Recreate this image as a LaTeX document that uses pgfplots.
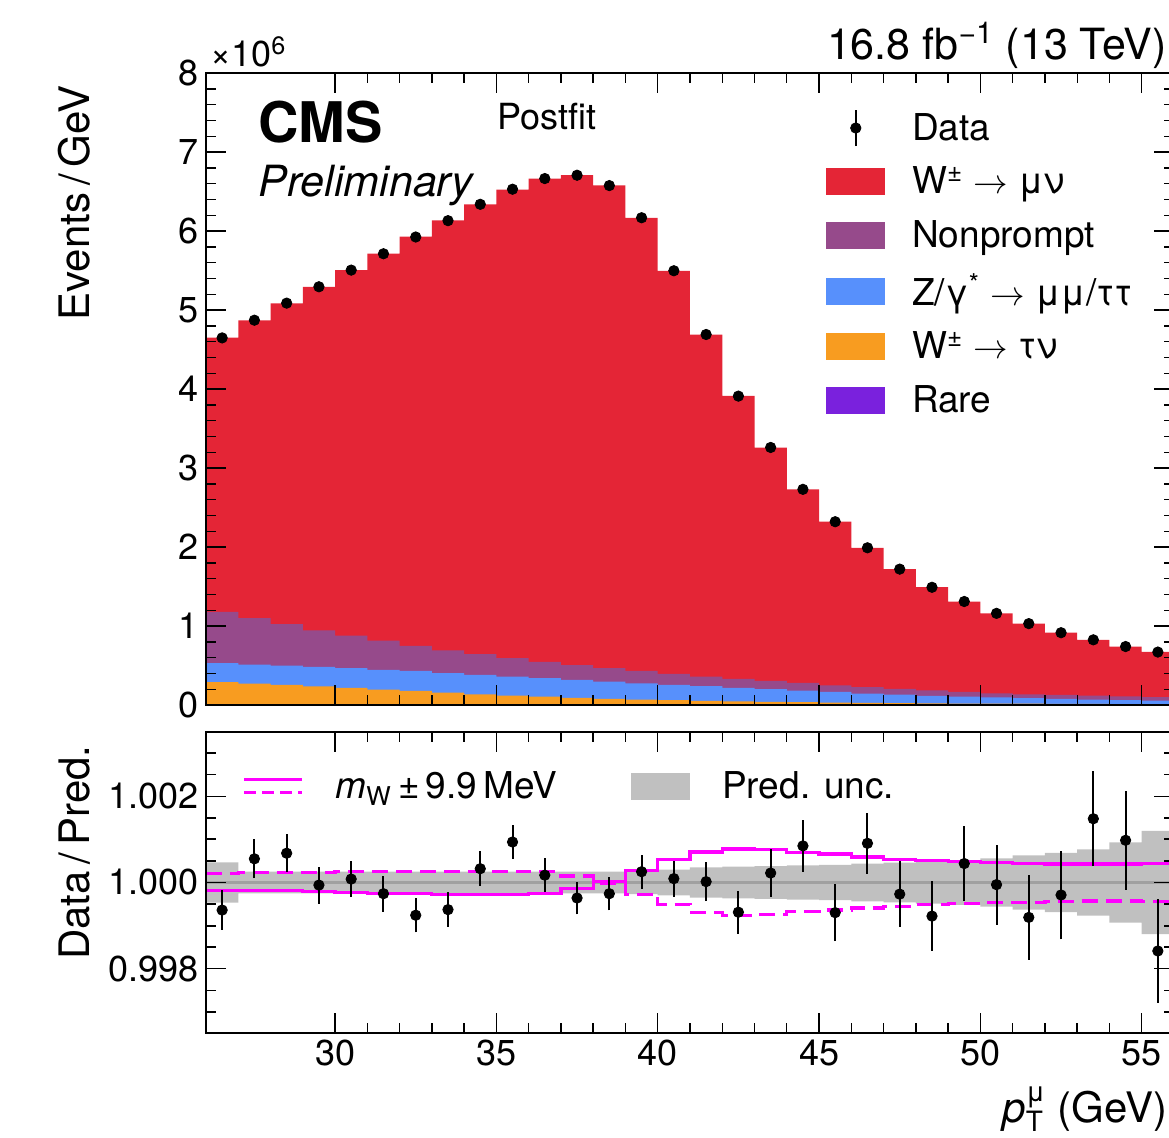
\documentclass[border=0pt]{standalone}
\usepackage{fontspec}
\setmainfont{TeX Gyre Heros}
\usepackage{pgfplots}
\pgfplotsset{compat=1.18}
\usepackage{pgfplotstable}

\definecolor{cmsred}{HTML}{E42536}
\definecolor{cmspurple}{HTML}{964A8B}
\definecolor{cmsblue}{HTML}{5790FC}
\definecolor{cmsorange}{HTML}{F89C20}
\definecolor{cmsviolet}{HTML}{7A21DD}
\definecolor{bandgray}{HTML}{C0C0C0}
\definecolor{linegray}{HTML}{A0A0A0}
\definecolor{mag}{RGB}{255,0,255}

% cumulative stack tops (units of 10^6 events/GeV), bin low edges
\pgfplotstableread{
x  T     P     B     O     R
26 4.650 1.180 0.530 0.290 0.0080
27 4.868 1.100 0.510 0.270 0.0075
28 5.083 1.025 0.500 0.254 0.0070
29 5.294 0.945 0.483 0.237 0.0068
30 5.504 0.877 0.466 0.216 0.0065
31 5.713 0.814 0.445 0.195 0.0060
32 5.929 0.750 0.432 0.178 0.0058
33 6.135 0.690 0.405 0.157 0.0055
34 6.336 0.644 0.381 0.136 0.0052
35 6.523 0.593 0.360 0.119 0.0050
36 6.663 0.547 0.339 0.106 0.0048
37 6.708 0.504 0.318 0.089 0.0046
38 6.577 0.466 0.295 0.078 0.0044
39 6.166 0.432 0.275 0.068 0.0042
40 5.496 0.394 0.254 0.062 0.0040
41 4.690 0.360 0.240 0.052 0.0038
42 3.913 0.330 0.216 0.046 0.0036
43 3.259 0.305 0.200 0.040 0.0034
44 2.728 0.280 0.182 0.035 0.0032
45 2.322 0.250 0.165 0.030 0.0030
46 1.988 0.225 0.145 0.026 0.0030
47 1.720 0.203 0.130 0.023 0.0028
48 1.491 0.186 0.117 0.020 0.0027
49 1.309 0.165 0.106 0.019 0.0026
50 1.160 0.148 0.095 0.017 0.0025
51 1.031 0.136 0.086 0.016 0.0024
52 0.915 0.127 0.077 0.015 0.0023
53 0.824 0.119 0.069 0.013 0.0022
54 0.739 0.110 0.063 0.012 0.0021
55 0.671 0.100 0.057 0.012 0.0020
56 0.671 0.100 0.057 0.012 0.0020
}\stack

\pgfplotstableread{
x    y
26.5 4.647
27.5 4.871
28.5 5.087
29.5 5.294
30.5 5.505
31.5 5.712
32.5 5.924
33.5 6.131
34.5 6.338
35.5 6.529
36.5 6.664
37.5 6.706
38.5 6.575
39.5 6.168
40.5 5.497
41.5 4.690
42.5 3.910
43.5 3.260
44.5 2.730
45.5 2.320
46.5 1.990
47.5 1.720
48.5 1.490
49.5 1.310
50.5 1.160
51.5 1.030
52.5 0.915
53.5 0.825
54.5 0.740
55.5 0.670
}\data

% data/prediction ratio
\pgfplotstableread{
x    r
26.5 0.99936
27.5 1.00055
28.5 1.00068
29.5 0.99994
30.5 1.00008
31.5 0.99974
32.5 0.99924
33.5 0.99937
34.5 1.00032
35.5 1.00094
36.5 1.00017
37.5 0.99964
38.5 0.99974
39.5 1.00025
40.5 1.00009
41.5 1.00002
42.5 0.99931
43.5 1.00022
44.5 1.00085
45.5 0.99930
46.5 1.00091
47.5 0.99973
48.5 0.99922
49.5 1.00044
50.5 0.99995
51.5 0.99919
52.5 0.99971
53.5 1.00148
54.5 1.00098
55.5 0.99841
}\ratio

\pgfplotstableread{
x  s       d
26 0.99981 1.00021
27 0.99981 1.00024
28 0.99981 1.00024
29 0.99980 1.00024
30 0.99976 1.00026
31 0.99975 1.00026
32 0.99974 1.00026
33 0.99973 1.00026
34 0.99973 1.00026
35 0.99973 1.00026
36 0.99975 1.00025
37 0.99986 1.00015
38 1.00002 0.99998
39 1.00027 0.99973
40 1.00053 0.99949
41 1.00071 0.99930
42 1.00078 0.99924
43 1.00076 0.99926
44 1.00069 0.99932
45 1.00066 0.99936
46 1.00059 0.99941
47 1.00054 0.99945
48 1.00051 0.99949
49 1.00048 0.99951
50 1.00046 0.99953
51 1.00044 0.99954
52 1.00043 0.99956
53 1.00043 0.99957
54 1.00043 0.99957
55 1.00044 0.99956
56 1.00044 0.99956
}\mw

\pgfplotsset{
  cmsaxis/.style={
    scale only axis, width=484pt, xmin=26, xmax=56,
    tick align=inside, tick pos=both,
    xtick={30,35,...,55}, minor x tick num=4,
    major tick length=10pt, minor tick length=5pt,
    axis line style={line width=1.3pt},
    every tick/.style={line width=0.7pt, black},
    tick label style={font=\fontsize{18}{18}\selectfont},
    /pgf/number format/assume math mode=true,
    axis on top,
    legend cell align=left,
  },
  boxleg/.style={legend image code/.code={\fill[#1] (0pt,-6.5pt) rectangle (29pt,6.5pt);}},
  ebar/.style={black, line width=1pt, forget plot},
}

\begin{document}
\begin{tikzpicture}

\begin{axis}[cmsaxis, at={(0pt,0pt)}, anchor=south west, height=316pt,
  ymin=0, ymax=8, ytick={0,1,...,8}, minor y tick num=4,
  xticklabels={},
  legend style={draw=none, fill=none, at={(0.6343,0.950)}, anchor=north west,
    font=\fontsize{18.5}{22}\selectfont, row sep=7.8pt,
    /tikz/every odd column/.append style={column sep=11.5pt}},
]
\addplot[const plot, fill=cmsred, draw=none, forget plot] table[x=x,y=T]{\stack} \closedcycle;
\addplot[const plot, fill=cmspurple, draw=none, forget plot] table[x=x,y=P]{\stack} \closedcycle;
\addplot[const plot, fill=cmsblue, draw=none, forget plot] table[x=x,y=B]{\stack} \closedcycle;
\addplot[const plot, fill=cmsorange, draw=none, forget plot] table[x=x,y=O]{\stack} \closedcycle;
\addplot[const plot, fill=cmsviolet, draw=none, forget plot] table[x=x,y=R]{\stack} \closedcycle;
\addplot[only marks, mark=*, mark size=2.6pt, black, forget plot] table[x=x,y=y]{\data};

\addlegendimage{legend image code/.code={\draw[black,line width=1pt](14.5pt,-9pt)--(14.5pt,9pt);\fill[black](14.5pt,0pt) circle (2.6pt);}}
\addlegendentry{Data}
\addlegendimage{boxleg=cmsred}
\addlegendentry{W\textsuperscript{±} $\rightarrow$ μν}
\addlegendimage{boxleg=cmspurple}
\addlegendentry{Nonprompt}
\addlegendimage{boxleg=cmsblue}
\addlegendentry{Z/γ\textsuperscript{*} $\rightarrow$ μμ/ττ}
\addlegendimage{boxleg=cmsorange}
\addlegendentry{W\textsuperscript{±} $\rightarrow$ τν}
\addlegendimage{boxleg=cmsviolet}
\addlegendentry{Rare}
\end{axis}

\begin{axis}[cmsaxis, at={(0pt,-13.5pt)}, anchor=north west, height=150.5pt,
  y coord trafo/.code={\pgfmathparse{(#1-1)*1000}},
  y coord inv trafo/.code={\pgfmathparse{#1/1000+1}},
  ymin=0.9965, ymax=1.0035, ytick={0.998,1,1.002},
  minor ytick={0.997,0.9975,0.9985,0.999,0.9995,1.0005,1.001,1.0015,1.0025,1.003},
  scaled y ticks=false,
  yticklabel style={/pgf/number format/fixed, /pgf/number format/fixed zerofill, /pgf/number format/precision=3},
  legend columns=2,
  legend style={draw=none, fill=none, at={(0.031,0.897)}, anchor=north west,
    font=\fontsize{18.5}{22}\selectfont,
    /tikz/every odd column/.append style={column sep=14pt},
    /tikz/every even column/.append style={column sep=35pt}},
]
% prediction uncertainty band: upper edge left to right, lower edge right to left
\addplot[const plot mark right, fill=bandgray, draw=none, forget plot] coordinates {
(26,1.00047) (27,1.00047) (28,1.00025) (29,1.00025) (30,1.00025) (31,1.00025)
(32,1.00025) (33,1.00025) (34,1.00025) (35,1.00025) (36,1.00025) (37,1.00025)
(38,1.00025) (39,1.00025) (40,1.00027) (41,1.00030) (42,1.00035) (43,1.00037)
(44,1.00038) (45,1.00040) (46,1.00041) (47,1.00044) (48,1.00046) (49,1.00049)
(50,1.00052) (51,1.00056) (52,1.00063) (53,1.00069) (54,1.00077) (55,1.00093)
(56,1.00120)
(56,0.99880) (55,0.99880) (54,0.99907) (53,0.99923) (52,0.99931) (51,0.99937)
(50,0.99944) (49,0.99948) (48,0.99951) (47,0.99954) (46,0.99956) (45,0.99959)
(44,0.99960) (43,0.99962) (42,0.99963) (41,0.99965) (40,0.99970) (39,0.99973)
(38,0.99975) (37,0.99975) (36,0.99975) (35,0.99975) (34,0.99975) (33,0.99975)
(32,0.99975) (31,0.99975) (30,0.99975) (29,0.99975) (28,0.99975) (27,0.99975)
(26,0.99953)};
\addplot[linegray, line width=1.6pt, forget plot] coordinates {(26,1) (56,1)};
\addplot[const plot, mag, line width=1.6pt, forget plot] table[x=x,y=s]{\mw};
\addplot[const plot, mag, line width=1.6pt, dash pattern=on 8pt off 4pt, forget plot] table[x=x,y=d]{\mw};
% error bars (lower and upper ends)
\addplot[ebar] coordinates {(26.5,0.99890) (26.5,0.99982)};
\addplot[ebar] coordinates {(27.5,1.00010) (27.5,1.00100)};
\addplot[ebar] coordinates {(28.5,1.00024) (28.5,1.00112)};
\addplot[ebar] coordinates {(29.5,0.99951) (29.5,1.00037)};
\addplot[ebar] coordinates {(30.5,0.99966) (30.5,1.00050)};
\addplot[ebar] coordinates {(31.5,0.99932) (31.5,1.00016)};
\addplot[ebar] coordinates {(32.5,0.99884) (32.5,0.99964)};
\addplot[ebar] coordinates {(33.5,0.99897) (33.5,0.99977)};
\addplot[ebar] coordinates {(34.5,0.99992) (34.5,1.00072)};
\addplot[ebar] coordinates {(35.5,1.00055) (35.5,1.00133)};
\addplot[ebar] coordinates {(36.5,0.99978) (36.5,1.00056)};
\addplot[ebar] coordinates {(37.5,0.99926) (37.5,1.00002)};
\addplot[ebar] coordinates {(38.5,0.99935) (38.5,1.00013)};
\addplot[ebar] coordinates {(39.5,0.99985) (39.5,1.00065)};
\addplot[ebar] coordinates {(40.5,0.99967) (40.5,1.00051)};
\addplot[ebar] coordinates {(41.5,0.99957) (41.5,1.00047)};
\addplot[ebar] coordinates {(42.5,0.99881) (42.5,0.99981)};
\addplot[ebar] coordinates {(43.5,0.99967) (43.5,1.00077)};
\addplot[ebar] coordinates {(44.5,1.00025) (44.5,1.00145)};
\addplot[ebar] coordinates {(45.5,0.99864) (45.5,0.99996)};
\addplot[ebar] coordinates {(46.5,1.00020) (46.5,1.00162)};
\addplot[ebar] coordinates {(47.5,0.99897) (47.5,1.00049)};
\addplot[ebar] coordinates {(48.5,0.99841) (48.5,1.00003)};
\addplot[ebar] coordinates {(49.5,0.99957) (49.5,1.00131)};
\addplot[ebar] coordinates {(50.5,0.99902) (50.5,1.00088)};
\addplot[ebar] coordinates {(51.5,0.99821) (51.5,1.00017)};
\addplot[ebar] coordinates {(52.5,0.99868) (52.5,1.00074)};
\addplot[ebar] coordinates {(53.5,1.00038) (53.5,1.00258)};
\addplot[ebar] coordinates {(54.5,0.99983) (54.5,1.00213)};
\addplot[ebar] coordinates {(55.5,0.99721) (55.5,0.99961)};
\addplot[only marks, mark=*, mark size=2.6pt, black, forget plot] table[x=x,y=r]{\ratio};

\addlegendimage{legend image code/.code={\draw[mag,line width=1.6pt](0pt,3.5pt)--(29pt,3.5pt);\draw[mag,line width=1.6pt,dash pattern=on 6pt off 3pt](0pt,-3pt)--(29pt,-3pt);}}
\addlegendentry{{\itshape m}\textsubscript{W}\,±\,9.9\,MeV}
\addlegendimage{boxleg=bandgray}
\addlegendentry{Pred. unc.}
\end{axis}

\node[anchor=base west, inner sep=0pt, font=\fontsize{18}{18}\selectfont] at (2pt,319pt) {×10\textsuperscript{6}};
\node[anchor=base east, inner sep=0pt, font=\fontsize{21.5}{21.5}\selectfont] at (480.5pt,323pt) {16.8 fb\textsuperscript{−1} (13 TeV)};
\node[anchor=base west, inner sep=0pt, font=\fontsize{28}{28}\selectfont\bfseries] at (26pt,281pt) {CMS};
\node[anchor=base west, inner sep=0pt, font=\fontsize{21.5}{21.5}\selectfont\itshape] at (26pt,254.5pt) {Preliminary};
\node[anchor=base west, inner sep=0pt, font=\fontsize{18}{18}\selectfont] at (145.5pt,287.5pt) {Postfit};
\node[rotate=90, anchor=base east, inner sep=0pt, font=\fontsize{21}{21}\selectfont] at (-58pt,310pt) {Events\,/\,GeV};
\node[rotate=90, anchor=base east, inner sep=0pt, font=\fontsize{21}{21}\selectfont] at (-58pt,-20pt) {Data\,/\,Pred.};
\node[anchor=base east, inner sep=0pt, font=\fontsize{21}{21}\selectfont] at (481pt,-208.5pt) {{\itshape p}$^{\mbox{\fontsize{14}{14}\selectfont μ}}_{\mbox{\fontsize{14}{14}\selectfont T}}$ (GeV)};

\pgfresetboundingbox
\path[use as bounding box] (-103pt,-216pt) rectangle (481.5pt,352.5pt);
\end{tikzpicture}
\end{document}
